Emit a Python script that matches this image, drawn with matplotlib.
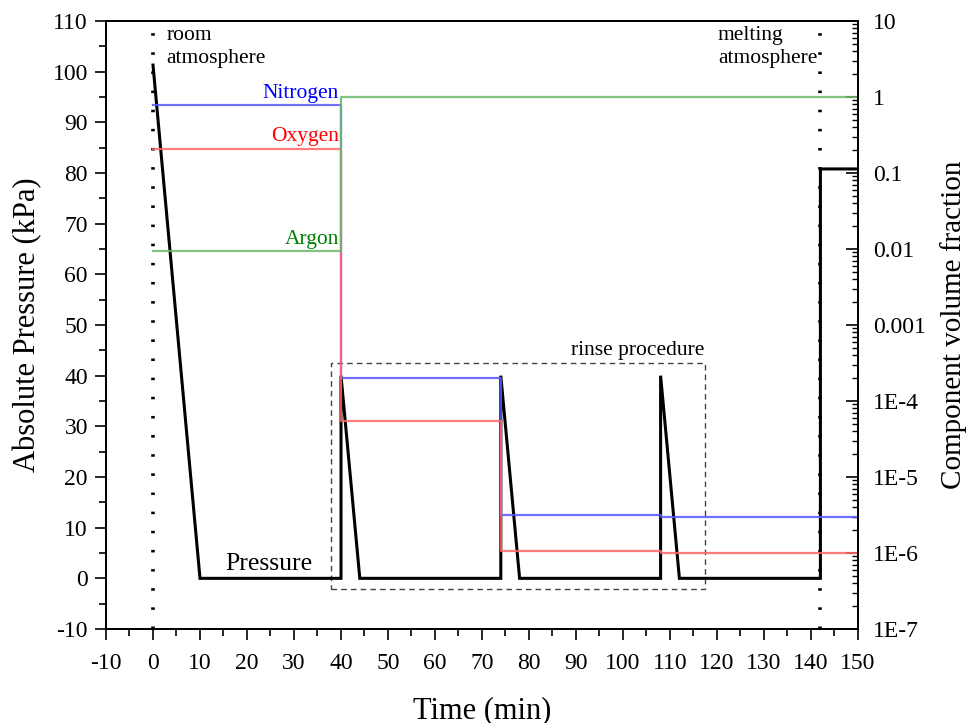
import math
import matplotlib
matplotlib.use("Agg")
import matplotlib.pyplot as plt
from matplotlib.patches import Rectangle
from matplotlib.ticker import MultipleLocator, LogLocator, FixedLocator, FuncFormatter, NullFormatter

plt.rcParams['font.family'] = ['Liberation Serif', 'DejaVu Serif']
plt.rcParams['axes.unicode_minus'] = False

# pressure profile (min, kPa)
p_time = [0, 10, 40, 40, 44, 74, 74, 78, 108, 108, 112, 142, 142, 150]
p_kpa = [101.3, 0, 0, 40, 0, 0, 40, 0, 0, 40, 0, 0, 80.8, 80.8]

# component volume fractions, stepwise (start time of each level)
gas_time = [0, 40, 74, 108, 150]
nitrogen = [0.78, 2.0e-4, 3.2e-6, 3.0e-6]
oxygen = [0.21, 5.4e-5, 1.05e-6, 1.0e-6]
argon = [0.0093, 0.99, 0.99, 0.99]

event_times = [0, 142]
rinse_box = [37.8, -2.2, 117.4, 42.5]  # x0, y0, x1, y1

fig = plt.figure(figsize=(9.7, 7.23), dpi=100)
ax = fig.add_axes([106 / 970, 1 - 629 / 723, 752 / 970, 608 / 723])
ax2 = ax.twinx()

# pressure
ax.plot(p_time, p_kpa, color='black', lw=2.2, solid_joinstyle='miter', zorder=3)
for t in event_times:
    ax.axvline(t, color='black', lw=2.6, linestyle=(0, (0.7, 4.6)), zorder=2)

x0, y0, x1, y1 = rinse_box
ax.add_patch(Rectangle((x0, y0), x1 - x0, y1 - y0, fill=False, ec='#444444',
                       lw=1.0, ls=(0, (4, 3)), zorder=2))

# gas fractions on log axis
ax2.step(gas_time, nitrogen + [nitrogen[-1]], where='post', color='#5555ff', lw=1.6, alpha=0.85)
ax2.step(gas_time, oxygen + [oxygen[-1]], where='post', color='#ff6666', lw=1.6, alpha=0.85)
ax2.step(gas_time, argon + [argon[-1]], where='post', color='#6ab86a', lw=1.6, alpha=0.85)

fs = 15.5
ax2.annotate('Nitrogen', xy=(39.6, nitrogen[0]), xytext=(0, 1.5), textcoords='offset points',
             ha='right', va='bottom', color='blue', fontsize=fs)
ax2.annotate('Oxygen', xy=(39.6, oxygen[0]), xytext=(0, 1.5), textcoords='offset points',
             ha='right', va='bottom', color='red', fontsize=fs)
ax2.annotate('Argon', xy=(39.6, argon[0]), xytext=(0, 1.5), textcoords='offset points',
             ha='right', va='bottom', color='green', fontsize=fs)

ax.text(34, 0.6, 'Pressure', ha='right', va='bottom', fontsize=18.5)
ax.text(2.8, 109.0, 'room\natmosphere', ha='left', va='top', fontsize=fs, linespacing=1.3)
ax.text(120.2, 109.0, 'melting\natmosphere', ha='left', va='top', fontsize=fs, linespacing=1.3)
ax.text(117.4, 45, 'rinse procedure', ha='right', va='center', fontsize=fs)

# left / bottom axes
ax.set_xlim(-10, 150)
ax.set_ylim(-10, 110)
ax.xaxis.set_major_locator(MultipleLocator(10))
ax.xaxis.set_minor_locator(MultipleLocator(5))
ax.yaxis.set_major_locator(MultipleLocator(10))
ax.yaxis.set_minor_locator(MultipleLocator(5))
ax.tick_params(which='major', direction='out', length=8, width=1.2, labelsize=17, pad=5)
ax.tick_params(which='minor', direction='out', length=5, width=1.2)
ax.tick_params(top=False, right=False, which='both')
ax.tick_params(axis='x', which='major', pad=9)

ax.set_xlabel('Time (min)', fontsize=22)
ax.set_ylabel('Absolute Pressure (kPa)', fontsize=22)
ax.xaxis.set_label_coords(0.5, -0.11)
ax.yaxis.set_label_coords(-0.085, 0.5)

# right axis
ax2.set_yscale('log')
ax2.set_ylim(1e-7, 10)
ax2.yaxis.set_major_locator(FixedLocator([10.0 ** k for k in range(-7, 2)]))
ax2.yaxis.set_minor_locator(LogLocator(base=10, subs=range(2, 10), numticks=20))
ax2.yaxis.set_minor_formatter(NullFormatter())
right_labels = {1: '10', 0: '1', -1: '0.1', -2: '0.01', -3: '0.001',
                -4: '1E-4', -5: '1E-5', -6: '1E-6', -7: '1E-7'}
ax2.yaxis.set_major_formatter(FuncFormatter(
    lambda v, _: right_labels.get(int(round(math.log10(v))), '')))
ax2.tick_params(which='major', direction='in', length=9, width=1.2, labelsize=17, pad=11)
ax2.tick_params(which='minor', direction='in', length=4.5, width=1.0)
ax2.set_ylabel('Component volume fraction', fontsize=21)
ax2.yaxis.set_label_coords(1.109, 0.5)

for a in (ax, ax2):
    for s in a.spines.values():
        s.set_linewidth(1.4)

fig.savefig('out.png', dpi=100)
